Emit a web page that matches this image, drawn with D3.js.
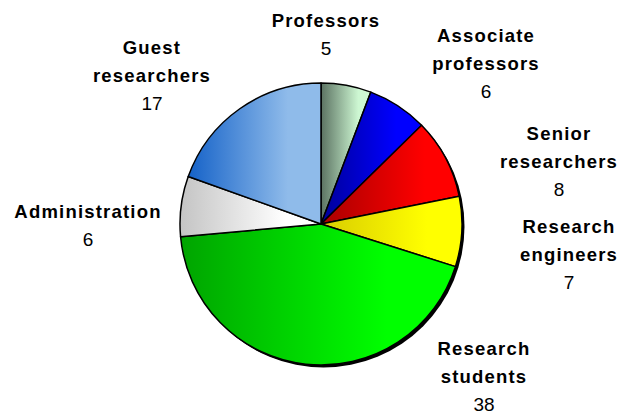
<!DOCTYPE html>
<html>
<head>
<meta charset="utf-8">
<script src="https://cdn.jsdelivr.net/npm/d3@7"></script>
<style>
  body { margin: 0; background: #fff; }
  text { font-family: "Liberation Sans", Arial, sans-serif; fill: #000; }
  .name { font-weight: bold; font-size: 18.5px; letter-spacing: 1.2px; }
  .num { font-size: 19px; }
</style>
</head>
<body>
<div id="chart"></div>
<script>
// data
var categories = ["Professors", "Associate professors", "Senior researchers", "Research engineers",
                  "Research students", "Administration", "Guest researchers"];
var values = [5, 6, 8, 7, 38, 6, 17];
// label lines for each slice
var labelLines = [["Professors"], ["Associate", "professors"], ["Senior", "researchers"],
                  ["Research", "engineers"], ["Research", "students"], ["Administration"],
                  ["Guest", "researchers"]];
// gradient stops, dark -> light
var darkColors  = ["#5b7262", "#00009a", "#a80000", "#d8cc00", "#00a400", "#c4c4c4", "#1562c8"];
var lightColors = ["#cdf7d2", "#0000ff", "#ff0000", "#ffff00", "#00ff00", "#ffffff", "#8fbbea"];

var width = 626, height = 417;
var cx = 321, cy = 224, radius = 141;

var svg = d3.select("#chart")
    .append("svg")
    .attr("width", width)
    .attr("height", height);

var defs = svg.append("defs");
categories.forEach(function(c, i) {
    var g = defs.append("linearGradient")
        .attr("id", "grad" + i)
        .attr("x1", "0%").attr("x2", "100%")
        .attr("y1", "0%").attr("y2", "0%");
    g.append("stop").attr("offset", "0%").attr("stop-color", darkColors[i]);
    g.append("stop").attr("offset", "75%").attr("stop-color", lightColors[i]);
    g.append("stop").attr("offset", "100%").attr("stop-color", lightColors[i]);
});

var pie = d3.pie().sort(null).value(function(d) { return d; });
var arc = d3.arc().innerRadius(0).outerRadius(radius);
var arcs = pie(values);

var g = svg.append("g")
    .attr("transform", "translate(" + cx + "," + cy + ")");

// drop shadow
g.append("circle")
    .attr("cx", 2.5)
    .attr("cy", 2.5)
    .attr("r", radius)
    .attr("fill", "#000");

g.selectAll("path.slice")
    .data(arcs)
    .enter()
    .append("path")
    .attr("class", "slice")
    .attr("d", arc)
    .attr("fill", function(d, i) { return "url(#grad" + i + ")"; })
    .attr("stroke", "#000")
    .attr("stroke-width", 1.5)
    .attr("stroke-linejoin", "round");

// label anchors (center x, first line y)
var labelPos = [[326, 27], [486, 42], [559, 140], [569, 233], [484, 355], [88, 218], [152, 54]];
var lineH = 28;

labelLines.forEach(function(lines, i) {
    var t = svg.append("g");
    lines.forEach(function(l, j) {
        t.append("text")
            .attr("class", "name")
            .attr("x", labelPos[i][0])
            .attr("y", labelPos[i][1] + j * lineH)
            .attr("text-anchor", "middle")
            .text(l);
    });
    t.append("text")
        .attr("class", "num")
        .attr("x", labelPos[i][0])
        .attr("y", labelPos[i][1] + lines.length * lineH)
        .attr("text-anchor", "middle")
        .text(values[i]);
});
</script>
</body>
</html>
